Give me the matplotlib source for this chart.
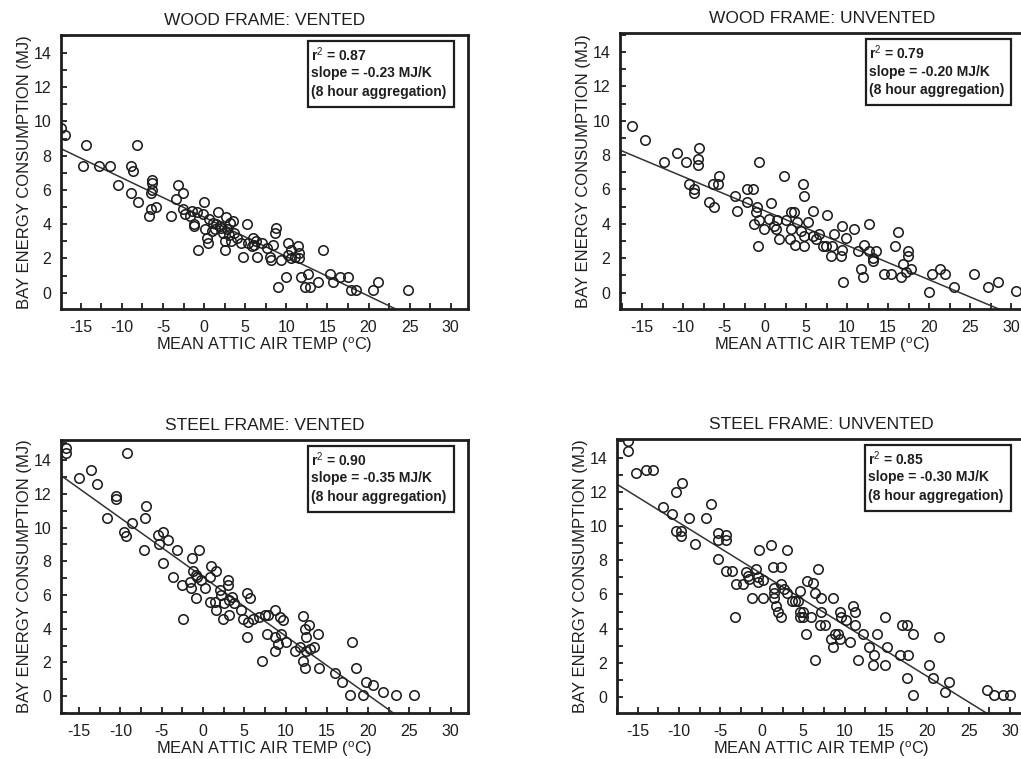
import matplotlib
matplotlib.use("Agg")
import matplotlib.pyplot as plt
from matplotlib.ticker import MultipleLocator
from matplotlib.patches import Rectangle

plt.rcParams['font.family'] = ['Liberation Sans', 'DejaVu Sans']
plt.rcParams['mathtext.fontset'] = 'custom'
plt.rcParams['mathtext.rm'] = 'Liberation Sans'
plt.rcParams['mathtext.it'] = 'Liberation Sans:italic'
plt.rcParams['mathtext.bf'] = 'Liberation Sans:bold'
plt.rcParams['axes.unicode_minus'] = False

# ---------- datos ----------
titles = ["WOOD FRAME: VENTED", "WOOD FRAME: UNVENTED",
          "STEEL FRAME: VENTED", "STEEL FRAME: UNVENTED"]
r2_values = ["0.87", "0.79", "0.90", "0.85"]
slope_labels = ["-0.23", "-0.20", "-0.35", "-0.30"]
fit_slope = [-0.23, -0.20, -0.35, -0.30]
fit_intercept = [4.41, 4.75, 7.07, 7.2]

wv_temp = [-17.4, -16.9, -14.3, -14.7, -12.8, -11.4, -10.5, -8.9, -8.6, -8.2,
           -8.9, -8.0, -6.3, -6.3, -6.3, -6.5, -6.5, -5.8, -6.7, -4.0,
           -3.2, -2.6, -3.4, -2.6, -2.3, -1.7, -0.9, 0.0, -0.1, -1.2,
           -1.2, -0.7, 0.1, 0.3, 0.5, 1.1, 1.7, 1.3, 1.9, 2.3,
           2.7, 3.1, 3.5, 2.5, 2.6, 3.3, 3.7, 4.5, 4.7, 5.2,
           5.4, 5.8, 6.0, 6.3, 6.1, 6.4, 7.0, 7.6, 8.0, 8.4,
           8.6, 8.8, 8.2, 9.0, 9.4, 10.2, 10.2, 10.6, 11.0, 11.4,
           11.6, 10.0, 11.8, 12.3, 12.9, 12.7, 13.9, 14.5, 15.3, 15.7,
           16.5, 17.5, 17.9, 18.5, 20.6, 21.2, 24.8,
           1.0, 2.0, 3.0, 4.0, 0.6, 2.8, 1.5, 10.6, 11.5, -1.5]
wv_energy = [9.6, 9.2, 8.6, 7.4, 7.4, 7.4, 6.3, 7.4, 7.1, 8.6,
             5.8, 5.3, 6.6, 6.4, 6.0, 5.8, 4.9, 5.0, 4.5, 4.5,
             6.3, 5.8, 5.5, 4.9, 4.6, 4.5, 4.7, 5.3, 4.6, 4.0,
             3.9, 2.5, 3.7, 3.2, 2.9, 4.1, 4.7, 3.7, 3.9, 3.5,
             4.4, 4.1, 4.2, 3.0, 2.5, 3.0, 3.5, 2.9, 2.1, 4.0,
             2.9, 2.7, 3.2, 3.0, 2.8, 2.1, 2.9, 2.6, 2.1, 2.8,
             3.5, 3.8, 1.9, 0.35, 1.9, 2.9, 2.2, 2.0, 2.1, 2.7,
             2.0, 0.9, 0.9, 0.35, 0.35, 1.1, 0.6, 2.5, 1.1, 0.6,
             0.9, 0.9, 0.15, 0.15, 0.15, 0.6, 0.15,
             3.6, 3.8, 3.4, 3.2, 4.3, 3.7, 4.0, 2.5, 2.3, 4.8]

wu_temp = [-16.2, -14.6, -12.3, -10.7, -9.6, -9.3, -8.7, -8.7, -8.1, -8.2,
           -8.2, -6.8, -6.2, -5.6, -5.7, -6.3, -3.7, -3.4, -2.2, -2.2,
           -1.5, -0.7, -1.0, -1.1, -0.9, -1.4, -0.7, -0.1, 0.5, 0.7,
           1.1, 1.3, 1.5, 1.7, 2.3, 2.5, 3.1, 3.5, 3.1, 3.0,
           3.7, 3.9, 4.4, 4.6, 4.7, 4.8, 4.8, 5.2, 5.8, 5.8,
           6.2, 6.6, 7.0, 7.4, 7.6, 8.2, 8.4, 8.0, 9.2, 9.4,
           9.4, 9.9, 10.9, 9.5, 11.3, 11.7, 11.9, 12.1, 12.7, 12.7,
           13.1, 13.5, 13.1, 14.5, 15.3, 15.9, 16.2, 16.8, 16.6, 17.2,
           17.4, 17.4, 17.8, 20.0, 20.4, 21.3, 22.0, 23.0, 25.5, 27.2,
           28.4, 30.6]
wu_energy = [9.7, 8.9, 7.6, 8.1, 7.6, 6.3, 6.05, 5.8, 8.4, 7.8,
             7.4, 5.3, 5.0, 6.8, 6.3, 6.3, 5.6, 4.75, 5.3, 6.0,
             6.0, 7.6, 5.0, 4.7, 2.7, 4.0, 4.2, 3.7, 4.3, 5.2,
             3.9, 3.7, 4.2, 3.1, 6.8, 4.2, 4.7, 4.7, 3.7, 3.1,
             2.8, 4.1, 3.6, 6.3, 5.6, 3.3, 2.7, 4.1, 4.75, 3.3,
             3.1, 3.4, 2.7, 2.7, 4.5, 2.7, 3.4, 2.15, 2.15, 2.5,
             3.9, 3.2, 3.7, 0.6, 2.45, 1.35, 0.9, 2.8, 4.0, 2.45,
             2.0, 2.45, 1.85, 1.07, 1.07, 2.7, 3.5, 1.65, 0.9, 1.2,
             2.45, 2.15, 1.35, 0.05, 1.07, 1.35, 1.07, 0.33, 1.07, 0.33,
             0.6, 0.1]

sv_temp = [-16.6, -16.6, -15.0, -13.6, -12.8, -11.6, -10.5, -10.5, -9.2, -9.6,
           -9.3, -8.6, -6.9, -7.0, -7.2, -5.5, -5.3, -4.8, -4.2, -4.9,
           -3.2, -3.6, -2.6, -2.4, -1.3, -0.5, -1.2, -0.9, -0.7, -1.6,
           -1.4, -0.9, -0.2, 0.3, 0.8, 1.0, 1.6, 0.8, 1.4, 1.6,
           2.0, 2.2, 2.6, 2.4, 3.0, 3.0, 3.2, 3.5, 3.8, 3.2,
           4.6, 5.3, 5.7, 4.8, 5.5, 5.3, 6.1, 6.8, 7.5, 7.1,
           7.9, 7.7, 8.7, 9.3, 9.7, 8.7, 9.1, 8.7, 9.5, 10.1,
           11.1, 11.7, 12.1, 12.3, 12.5, 12.9, 13.9, 12.5, 13.0, 13.5,
           12.1, 12.3, 14.1, 16.0, 16.8, 17.8, 18.0, 18.5, 19.4, 19.8,
           20.6, 21.8, 23.4, 25.5]
sv_energy = [14.7, 14.4, 12.95, 13.4, 12.6, 10.6, 11.9, 11.7, 14.4, 9.75,
             9.5, 10.3, 11.3, 10.6, 8.7, 9.55, 9.0, 9.75, 9.25, 7.9,
             8.7, 7.1, 6.6, 4.55, 8.2, 8.7, 7.4, 7.2, 7.1, 6.8,
             6.4, 5.8, 6.9, 6.4, 7.1, 7.7, 7.4, 5.6, 5.6, 5.1,
             6.3, 6.0, 5.5, 4.55, 6.9, 6.6, 5.7, 5.9, 5.5, 4.8,
             5.1, 6.1, 5.8, 4.6, 4.4, 3.5, 4.6, 4.7, 4.8, 2.1,
             4.8, 3.7, 5.1, 4.7, 4.5, 3.5, 3.1, 2.7, 3.7, 3.2,
             2.7, 2.9, 4.75, 4.0, 3.5, 4.2, 3.7, 2.7, 2.8, 2.9,
             2.1, 1.7, 1.7, 1.35, 0.85, 0.05, 3.2, 1.7, 0.05, 0.85,
             0.65, 0.25, 0.05, 0.05]

su_temp = [-16.2, -16.2, -15.2, -14.0, -13.2, -10.4, -9.6, -11.9, -10.9, -10.4,
           -9.8, -9.8, -8.8, -8.1, -6.8, -6.1, -5.3, -4.3, -4.3, -5.3,
           -5.3, -4.3, -3.6, -3.3, -3.1, -2.3, -1.9, -1.7, -1.5, -1.2,
           -0.7, -0.5, -0.5, -0.4, 0.2, 0.2, 1.1, 1.3, 2.3, 1.5,
           1.5, 1.5, 1.7, 2.0, 2.3, 2.3, 2.7, 3.0, 3.1, 3.6,
           4.0, 4.4, 4.6, 4.6, 5.0, 4.6, 5.0, 5.4, 5.3, 6.2,
           6.4, 6.0, 6.4, 6.8, 7.0, 7.6, 7.2, 7.2, 8.6, 9.4,
           9.6, 8.4, 8.8, 9.2, 9.4, 8.6, 10.2, 10.6, 11.0, 11.2,
           11.2, 11.6, 12.2, 12.9, 13.6, 13.4, 13.9, 14.9, 15.1, 14.9,
           16.9, 17.5, 18.3, 16.7, 17.7, 17.5, 18.3, 20.2, 20.7, 21.4,
           22.1, 22.6, 27.2, 28.0, 29.1, 30.0]
su_energy = [15.0, 14.4, 13.1, 13.3, 13.3, 12.0, 12.5, 11.1, 10.7, 9.7,
             9.7, 9.4, 10.5, 8.95, 10.5, 11.3, 9.6, 9.5, 9.2, 9.2,
             8.1, 7.4, 7.4, 4.7, 6.6, 6.6, 7.3, 7.1, 6.9, 5.8,
             7.5, 7.0, 6.7, 8.6, 5.8, 6.85, 8.9, 7.6, 7.6, 6.4,
             6.1, 5.8, 5.3, 5.0, 4.7, 6.6, 6.3, 8.6, 6.1, 5.6,
             5.6, 5.6, 6.2, 5.0, 5.0, 4.7, 4.7, 6.8, 3.7, 6.65,
             6.1, 4.7, 2.15, 7.5, 4.2, 4.2, 5.8, 5.0, 5.8, 5.0,
             4.7, 3.4, 3.7, 3.7, 3.4, 2.9, 4.5, 3.2, 5.3, 5.0,
             4.2, 2.15, 3.7, 2.9, 2.45, 1.85, 3.7, 4.7, 2.9, 1.85,
             4.2, 4.2, 3.7, 2.45, 2.45, 1.1, 0.1, 1.85, 1.1, 3.5,
             0.3, 0.9, 0.4, 0.1, 0.1, 0.1]

temps = [wv_temp, wu_temp, sv_temp, su_temp]
energies = [wv_energy, wu_energy, sv_energy, su_energy]

# ---------- layout ----------
W, H = 1021, 759
# [izq, arriba, ancho, alto] en pixeles
boxes = [(61, 35, 407, 274), (620, 33, 405, 276),
         (61, 440, 407, 273), (617, 439, 408, 274)]
xlims = [(-17.4, 32.1), (-17.7, 31.7), (-17.2, 32.1), (-17.5, 31.8)]
ylims = [(-0.95, 15.05), (-0.95, 15.1), (-1.0, 15.2), (-0.94, 15.1)]

ink = '#1e1e1e'
fig = plt.figure(figsize=(W / 100, H / 100), dpi=100)

for i in range(4):
    l, t, w, h = boxes[i]
    ax = fig.add_axes([l / W, (H - t - h) / H, w / W, h / H])
    x = temps[i]
    y = energies[i]
    ax.plot(x, y, 'o', mfc='none', mec=ink, ms=6.8, mew=1.15, zorder=3)

    xs = [xlims[i][0], xlims[i][1]]
    ys = [fit_intercept[i] + fit_slope[i] * v for v in xs]
    ax.plot(xs, ys, '-', color='#333333', lw=1.1, zorder=2)

    ax.set_xlim(xlims[i])
    ax.set_ylim(ylims[i])
    ax.xaxis.set_minor_locator(MultipleLocator(2.5))
    ax.yaxis.set_minor_locator(MultipleLocator(1))
    ax.set_xticks(range(-15, 31, 5))
    ax.set_yticks(range(0, 15, 2))
    ax.tick_params(which='both', direction='in', length=4, width=1.3,
                   color=ink, labelcolor=ink, labelsize=11.5)
    ax.tick_params(axis='x', pad=8)
    ax.tick_params(axis='y', pad=7)
    for s in ax.spines.values():
        s.set_linewidth(2.0)
        s.set_color(ink)

    ax.set_title(titles[i], fontsize=12.5, color=ink, pad=7)
    ax.set_xlabel(r'MEAN ATTIC AIR TEMP ($^{\mathrm{o}}$C)', fontsize=11.8,
                  color=ink, labelpad=0)
    ax.set_ylabel('BAY ENERGY CONSUMPTION (MJ)', fontsize=12, color=ink,
                  labelpad=1)

    # caja de texto
    ax.add_patch(Rectangle((0.607, 0.738), 0.358, 0.239, transform=ax.transAxes,
                           fc='white', ec=ink, lw=1.6, zorder=5))
    lines = ['r$^{\\mathrm{2}}$ = ' + r2_values[i],
             'slope = ' + slope_labels[i] + ' MJ/K',
             '(8 hour aggregation)']
    for k, txt in enumerate(lines):
        ax.text(0.615, 0.928 - k * 0.068, txt, transform=ax.transAxes,
                fontsize=10, fontweight='bold', color=ink, va='center',
                ha='left', zorder=6)

fig.savefig('out.png', dpi=100)
